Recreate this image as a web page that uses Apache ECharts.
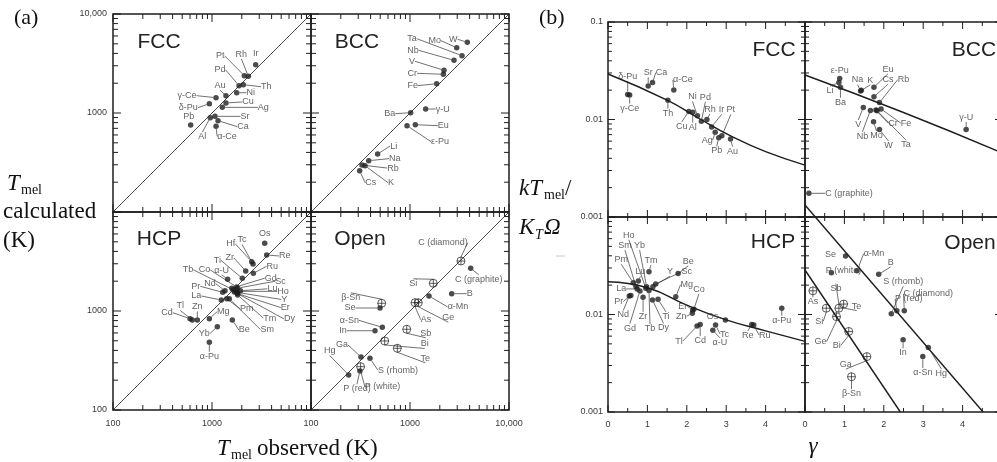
<!DOCTYPE html>
<html>
<head>
<meta charset="utf-8">
<script src="https://cdn.jsdelivr.net/npm/echarts@6/dist/echarts.min.js"></script>
<style>
  html, body { margin: 0; padding: 0; background: #fff; }
  #chart { width: 997px; height: 462px; }
</style>
</head>
<body>
<div id="chart"></div>
<script>
// ---------- tick values and tick labels ----------
const tempMajor = [100, 1000, 10000];
const tempMinor = [200, 300, 400, 500, 600, 700, 800, 900, 2000, 3000, 4000, 5000, 6000, 7000, 8000, 9000];
const tempTickLabels = ['100', '1000', '10,000'];
const ratioMajor = [0.001, 0.01, 0.1];
const ratioMinor = [0.002, 0.003, 0.004, 0.005, 0.006, 0.007, 0.008, 0.009, 0.02, 0.03, 0.04, 0.05, 0.06, 0.07, 0.08, 0.09];
const ratioTickLabels = ['0.001', '0.01', '0.1'];
const gammaMajor = [0, 1, 2, 3, 4, 5];
const gammaMinor = [0.5, 1.5, 2.5, 3.5, 4.5];
const gammaTickLabels = ['0', '1', '2', '3', '4'];

// ---------- (a) melting temperature: observed vs calculated (K) ----------
const fccNamesA = ['Ir', 'Rh', 'Pt', 'Th', 'Pd', 'Ni', 'Au', 'γ-Ce', 'Cu', 'δ-Pu', 'Ag', 'Al', 'Sr', 'Ca', 'α-Ce', 'Pb'];
const fccObsA   = [2762, 2327, 2120, 2071, 1874, 1776, 1384, 1098, 1384, 940, 1271, 961, 1072, 1150, 1098, 609];
const fccCalcA  = [3076, 2348, 2380, 1931, 1887, 1603, 1496, 1428, 1262, 1241, 1141, 897, 925, 837, 733, 756];

const bccNamesA = ['W', 'Mo', 'Ta', 'Nb', 'V', 'Cr', 'Fe', 'γ-U', 'Ba', 'Eu', 'ε-Pu', 'Li', 'Na', 'Rb', 'K', 'Cs'];
const bccObsA   = [3793, 2963, 3352, 2782, 2205, 2172, 1860, 1440, 1016, 1132, 933, 471, 383, 327, 351, 310];
const bccCalcA  = [5180, 4567, 3793, 3404, 2700, 2460, 1977, 1097, 1007, 762, 745, 385, 330, 298, 294, 261];

const hcpNamesA = ['Os', 'Re', 'Hf', 'Tc', 'Zr', 'Ru', 'Ti', 'α-U', 'Co', 'Tb', 'Gd', 'Sc', 'Lu', 'Ho', 'Y', 'Er', 'Dy', 'Tm',
                   'Nd', 'Pr', 'La', 'Pm', 'Sm', 'Cd', 'Tl', 'Zn', 'Mg', 'Be', 'Yb', 'α-Pu'];
const hcpObsA   = [3408, 3568, 2518, 2597, 2190, 2616, 2024, 1440, 1768, 1630, 1585, 1814, 1936, 1747, 1799, 1802, 1685, 1818,
                   1353, 1283, 1242, 1408, 1496, 600, 632, 711, 940, 1604, 1132, 940];
const hcpCalcA  = [4830, 3680, 3148, 2985, 2535, 2404, 2138, 2089, 1750, 1640, 1700, 1700, 1600, 1580, 1540, 1500, 1560, 1450,
                   1603, 1545, 1292, 1331, 1331, 836, 812, 812, 836, 812, 695, 483];

const openNamesA = ['C (diamond)', 'C (graphite)', 'Si', 'B', 'α-Mn', 'β-Sn', 'Se', 'As', 'Ge', 'α-Sn', 'In', 'Sb', 'Bi', 'Te',
                    'S (rhomb)', 'Ga', 'Hg', 'P (white)', 'P (red)'];
const openObsA   = [3270, 4102, 1720, 2636, 1556, 518, 498, 1124, 1213, 525, 443, 927, 555, 745, 394, 320, 240, 317, 312];
const openCalcA  = [3200, 2700, 1905, 1496, 1418, 1197, 1072, 1213, 1213, 684, 632, 654, 498, 420, 333, 343, 226, 274, 248];
const openRingedA = ['C (diamond)', 'Si', 'β-Sn', 'As', 'Ge', 'Sb', 'Bi', 'Te', 'P (white)'];

const diagonalA = [100, 10000];

// ---------- (b) kTmel/KTΩ against γ ----------
const fccNamesB = ['δ-Pu', 'γ-Ce', 'Sr', 'Ca', 'α-Ce', 'Th', 'Cu', 'Al', 'Ni', 'Pd', 'Rh', 'Ir', 'Ag', 'Pt', 'Pb', 'Au'];
const fccGammaB = [0.50, 0.55, 1.02, 1.13, 1.67, 1.52, 2.05, 2.15, 2.27, 2.37, 2.51, 2.63, 2.72, 2.89, 2.81, 3.11];
const fccRatioB = [0.0181, 0.0178, 0.0221, 0.0239, 0.0201, 0.0158, 0.0121, 0.0119, 0.0109, 0.0096, 0.0100, 0.0084, 0.0074, 0.0068, 0.0065, 0.0063];
const fccFitGamma = [0, 1.5, 2.3, 3.15, 4, 5];
const fccFitRatio = [0.0293, 0.0158, 0.0103, 0.00667, 0.00468, 0.00341];

const bccNamesB = ['ε-Pu', 'Li', 'Ba', 'Na', 'K', 'Eu', 'Cs', 'Rb', 'V', 'Nb', 'Cr', 'Ta', 'Fe', 'Mo', 'W', 'γ-U', 'C (graphite)'];
const bccGammaB = [0.88, 0.86, 0.90, 1.41, 1.43, 1.75, 1.75, 1.89, 1.48, 1.66, 1.80, 1.83, 1.93, 1.74, 1.89, 4.09, 0.10];
const bccRatioB = [0.0264, 0.0239, 0.0214, 0.0196, 0.0199, 0.0214, 0.0171, 0.0149, 0.0133, 0.0124, 0.0125, 0.0123, 0.0128, 0.0095, 0.0079, 0.0079, 0.00175];
const bccFitGamma = [0, 2.5, 5];
const bccFitRatio = [0.0286, 0.0118, 0.00456];

const hcpNamesB = ['Ho', 'Sm', 'Yb', 'Pm', 'Tm', 'Lu', 'Be', 'Y', 'Sc', 'Mg', 'Co', 'La', 'Pr', 'Nd', 'Zr', 'Ti', 'Er', 'Zn',
                   'Gd', 'Tb', 'Dy', 'Os', 'Tl', 'Cd', 'Tc', 'α-U', 'Re', 'Ru', 'α-Pu'];
const hcpGammaB = [0.96, 0.71, 0.98, 0.64, 1.04, 0.77, 1.78, 1.14, 1.21, 1.72, 2.18, 0.74, 0.58, 0.54, 0.89, 1.27, 2.15, 2.14,
                   0.81, 1.04, 1.13, 2.98, 2.26, 2.34, 2.73, 2.66, 3.65, 3.70, 4.41];
const hcpRatioB = [0.0186, 0.0193, 0.0193, 0.0212, 0.0275, 0.0221, 0.0264, 0.0193, 0.0206, 0.0152, 0.0113, 0.0183, 0.0157, 0.0155, 0.0150, 0.0143, 0.0111, 0.0103,
                   0.0174, 0.0176, 0.0141, 0.0088, 0.0076, 0.0079, 0.0078, 0.0069, 0.0079, 0.0078, 0.0116];
const hcpFitGamma = [0, 1, 2, 3, 4, 5];
const hcpFitRatio = [0.0217, 0.0188, 0.0125, 0.0088, 0.0068, 0.0053];

const openNamesB = ['Se', 'P (white)', 'α-Mn', 'B', 'S (rhomb)', 'P (red)', 'C (diamond)', 'As', 'Sb', 'Te', 'Si', 'Ge', 'Bi',
                    'In', 'Hg', 'α-Sn', 'Ga', 'β-Sn'];
const openGammaB = [1.03, 0.67, 1.32, 1.87, 2.19, 2.33, 2.52, 0.20, 0.86, 0.98, 0.54, 0.80, 1.11, 2.49, 3.13, 2.99, 1.57, 1.18];
const openRatioB = [0.0398, 0.0268, 0.0281, 0.0258, 0.0102, 0.0109, 0.0109, 0.0175, 0.0116, 0.0128, 0.0116, 0.0095, 0.0067,
                    0.0055, 0.0046, 0.0037, 0.0037, 0.0023];
const openRingedB = ['As', 'Sb', 'Te', 'Si', 'Ge', 'Bi', 'Ga', 'β-Sn'];
const openUpperFitGamma = [0, 4.52];
const openUpperFitRatio = [0.133, 0.001];
const openLowerFitGamma = [0, 2.42];
const openLowerFitRatio = [0.0286, 0.001];

// ---------- label placement (pixel shift of each label centre from its point; third entry 0 = no leader) ----------
const shiftFccA = { 'Ir': [0, -11, 0], 'Rh': [-7, -22], 'Pt': [-24, -20], 'Pd': [-19, -16], 'Th': [23, 2], 'Ni': [14, 0],
  'Au': [-6, -10], 'γ-Ce': [-29, -2], 'Cu': [22, -1], 'δ-Pu': [-21, 4], 'Ag': [41, 0], 'Sr': [30, 0], 'Ca': [25, 6],
  'α-Ce': [11, 10], 'Al': [-8, 19], 'Pb': [-2, -9, 0] };
const shiftBccA = { 'W': [-14, -3], 'Mo': [-22, -7], 'Ta': [-50, -17], 'Nb': [-41, -10], 'V': [-32, -9], 'Cr': [-31, -1],
  'Fe': [-24, 2], 'γ-U': [17, 0], 'Ba': [-21, 1], 'Eu': [28, 1], 'ε-Pu': [33, 16], 'Li': [16, -8], 'Na': [26, -2],
  'Rb': [31, 3], 'K': [26, 17], 'Cs': [11, 12] };
const shiftHcpA = { 'Os': [0, -10, 0], 'Re': [18, 1], 'Hf': [-21, -18], 'Tc': [-11, -24], 'Zr': [-16, -13], 'Ru': [19, -7],
  'Ti': [-25, -18], 'α-U': [-6, -9], 'Co': [-32, -17], 'Tb': [-45, -20], 'Gd': [39, -10], 'Sc': [43, -7], 'Lu': [32, -2],
  'Ho': [47, 0], 'Y': [47, 7], 'Er': [48, 14], 'Dy': [55, 27], 'Tm': [32, 23], 'Nd': [-15, -7], 'Pr': [-27, -6],
  'La': [-25, -4], 'Pm': [20, 10], 'Sm': [38, 31], 'Cd': [-23, -6], 'Tl': [-12, -14], 'Zn': [0, -13], 'Mg': [14, -7],
  'Be': [12, 10], 'Yb': [-13, 7], 'α-Pu': [0, 14] };
const shiftOpenA = { 'C (diamond)': [-18, -18], 'C (graphite)': [8, 11], 'Si': [-20, 0], 'B': [18, 0], 'α-Mn': [29, 11],
  'β-Sn': [-31, -6], 'Se': [-30, 0], 'As': [11, 17], 'Ge': [30, 15], 'α-Sn': [-33, -7], 'In': [-32, 0], 'Sb': [19, 4],
  'Bi': [40, 3], 'Te': [28, 10], 'S (rhomb)': [28, 12], 'Ga': [-19, -12], 'Hg': [-19, -24], 'P (white)': [22, 20],
  'P (red)': [-3, 18] };
const shiftFccB = { 'δ-Pu': [0, -18], 'γ-Ce': [0, 13], 'Sr': [0, -13], 'Ca': [9, -10], 'α-Ce': [9, -10], 'Th': [0, 13],
  'Cu': [-7, 15], 'Al': [0, 15], 'Ni': [-5, -19], 'Pd': [4, -24], 'Rh': [3, -10], 'Ir': [10, -17], 'Ag': [-8, 8],
  'Pt': [9, -26], 'Pb': [-2, 13], 'Au': [2, 12] };
const shiftBccB = { 'ε-Pu': [0, -8, 0], 'Li': [-9, 8], 'Ba': [0, 15], 'Na': [-3, -11], 'K': [9, -10], 'Eu': [14, -18],
  'Cs': [14, -17], 'Rb': [24, -23], 'V': [-5, 17], 'Nb': [-8, 26], 'Cr': [17, 13], 'Ta': [29, 34], 'Fe': [25, 14],
  'Mo': [3, 14], 'W': [9, 16], 'γ-U': [0, -12], 'C (graphite)': [40, 0] };
const shiftHcpB = { 'Ho': [-17, -53], 'Sm': [-11, -41], 'Yb': [-7, -41], 'Pm': [-12, -23], 'Tm': [2, -11], 'Lu': [2, -9],
  'Be': [10, -12], 'Y': [17, -15], 'Sc': [31, -12], 'Mg': [11, -12], 'Co': [5, -20], 'La': [-16, 0], 'Pr': [-12, 6],
  'Nd': [-6, 19], 'Zr': [0, 19], 'Ti': [8, 17], 'Er': [-10, -4], 'Zn': [-11, 3], 'Gd': [-10, 37], 'Tb': [1, 38],
  'Dy': [11, 28], 'Os': [-13, -3], 'Tl': [-18, 15], 'Cd': [0, 16], 'Tc': [9, 9], 'α-U': [7, 12], 'Re': [-4, 11],
  'Ru': [11, 10], 'α-Pu': [0, 12] };
const shiftOpenB = { 'Se': [-15, -1, 0], 'P (white)': [12, -2, 0], 'α-Mn': [17, -17], 'B': [12, -12], 'S (rhomb)': [12, -32],
  'P (red)': [12, -12], 'C (diamond)': [24, -17], 'As': [0, 11], 'Sb': [-3, -20], 'Te': [13, 2], 'Si': [-7, 13],
  'Ge': [-16, 25], 'Bi': [-12, 14], 'In': [0, 13], 'Hg': [13, 26], 'α-Sn': [0, 16], 'Ga': [-21, 8], 'β-Sn': [0, 17] };

// ---------- drawing helpers ----------
const SANS = '"Liberation Sans", Arial, sans-serif';
const SERIF = '"Liberation Serif", "Times New Roman", serif';
const INK = '#1e1e1e';
const RING = 'path://M10,0A10,10 0 1,1 10,20A10,10 0 1,1 10,0ZM0,10L20,10M10,0L10,20';

const cells = [
  { left: 113, top: 14, width: 198, height: 198 },
  { left: 311, top: 14, width: 198, height: 198 },
  { left: 113, top: 212, width: 198, height: 198 },
  { left: 311, top: 212, width: 198, height: 198 },
  { left: 608, top: 22, width: 197, height: 195 },
  { left: 805, top: 22, width: 197, height: 195 },
  { left: 608, top: 217, width: 197, height: 195 },
  { left: 805, top: 217, width: 197, height: 195 }
];

function logLabel(labels, first, shown) {
  return function (v) {
    const idx = Math.round(Math.log10(v)) - Math.round(Math.log10(first));
    const t = labels[idx];
    return shown.indexOf(t) >= 0 ? t : '';
  };
}

const axisText = { fontFamily: SANS, fontSize: 9, color: '#3a3a3a' };

function tempAxis(gi, shown, isX) {
  return {
    gridIndex: gi, type: 'log', logBase: 10, min: 100, max: 10000,
    axisLine: { show: false }, axisTick: { show: false }, splitLine: { show: false },
    axisLabel: Object.assign({ show: shown.length > 0, margin: isX ? 9 : 6, formatter: logLabel(tempTickLabels, 100, shown) }, axisText)
  };
}
function ratioAxis(gi, shown) {
  return {
    gridIndex: gi, type: 'log', logBase: 10, min: 0.001, max: 0.1,
    axisLine: { show: false }, axisTick: { show: false }, splitLine: { show: false },
    axisLabel: Object.assign({ show: shown.length > 0, margin: 5, formatter: logLabel(ratioTickLabels, 0.001, shown) }, axisText)
  };
}
function gammaAxis(gi, shown) {
  return {
    gridIndex: gi, type: 'value', min: 0, max: 5, interval: 1,
    axisLine: { show: false }, axisTick: { show: false }, splitLine: { show: false },
    axisLabel: Object.assign({ show: shown.length > 0, margin: 8,
      formatter: v => { const t = String(Math.round(v)); return shown.indexOf(t) >= 0 ? t : ''; } }, axisText)
  };
}

// inward ticks on all four sides of a cell
function tickSeries(gi, xr, yr, xMaj, xMin, yMaj, yMin, majLen, minLen) {
  return {
    type: 'custom', xAxisIndex: gi, yAxisIndex: gi, silent: true, animation: false, z: 3, clip: false,
    data: [[xr[0], yr[0]]],
    renderItem: function (params, api) {
      const bl = api.coord([xr[0], yr[0]]);
      const tr = api.coord([xr[1], yr[1]]);
      const ch = [];
      const seg = (x1, y1, x2, y2) => ch.push({ type: 'line', shape: { x1, y1, x2, y2 }, style: { stroke: INK, lineWidth: 1 } });
      const xt = (v, len) => { const p = api.coord([v, yr[0]])[0]; seg(p, bl[1], p, bl[1] - len); seg(p, tr[1], p, tr[1] + len); };
      const yt = (v, len) => { const p = api.coord([xr[0], v])[1]; seg(bl[0], p, bl[0] + len, p); seg(tr[0], p, tr[0] - len, p); };
      xMaj.forEach(v => xt(v, majLen)); xMin.forEach(v => xt(v, minLen));
      yMaj.forEach(v => yt(v, majLen)); yMin.forEach(v => yt(v, minLen));
      return { type: 'group', children: ch };
    }
  };
}

function pointSeries(gi, names, xs, ys, shifts, ringed) {
  const data = names.map((n, i) => {
    const s = shifts[n] || [0, -9];
    const ring = !!ringed && ringed.indexOf(n) >= 0;
    return {
      name: n, value: [xs[i], ys[i]],
      symbol: ring ? RING : 'circle',
      symbolSize: ring ? 8 : 5.5,
      itemStyle: ring ? { color: 'rgba(255,255,255,0)', borderColor: INK, borderWidth: 0.9 } : { color: INK },
      labelLine: { show: s[2] !== 0 }
    };
  });
  return {
    type: 'scatter', xAxisIndex: gi, yAxisIndex: gi, data: data, z: 5, clip: false, animation: false,
    emphasis: { disabled: true },
    label: { show: true, position: 'inside', formatter: '{b}', fontFamily: SANS, fontSize: 9, color: '#3a3a3a',
             textBorderWidth: 0 },
    labelLine: { show: true, lineStyle: { color: '#333', width: 0.7 } },
    labelLayout: function (p) {
      const s = shifts[names[p.dataIndex]] || [0, -9];
      return { dx: s[0], dy: s[1] };
    }
  };
}

function lineSeries(gi, xs, ys, width, smooth) {
  return {
    type: 'line', xAxisIndex: gi, yAxisIndex: gi, data: xs.map((x, i) => [x, ys[i]]),
    symbol: 'none', clip: false, animation: false, silent: true, z: 2, smooth: !!smooth,
    lineStyle: { color: INK, width: width }
  };
}

const series = [];
// (a) cells
[0, 1, 2, 3].forEach(gi => {
  series.push(tickSeries(gi, [100, 10000], [100, 10000], tempMajor, tempMinor, tempMajor, tempMinor, 8, 5));
  series.push(lineSeries(gi, diagonalA, diagonalA, 0.8));
});
series.push(pointSeries(0, fccNamesA, fccObsA, fccCalcA, shiftFccA));
series.push(pointSeries(1, bccNamesA, bccObsA, bccCalcA, shiftBccA));
series.push(pointSeries(2, hcpNamesA, hcpObsA, hcpCalcA, shiftHcpA));
series.push(pointSeries(3, openNamesA, openObsA, openCalcA, shiftOpenA, openRingedA));
// (b) cells
[4, 5, 6, 7].forEach(gi => {
  series.push(tickSeries(gi, [0, 5], [0.001, 0.1], gammaMajor, gammaMinor, ratioMajor, ratioMinor, 7, 4));
});
series.push(lineSeries(4, fccFitGamma, fccFitRatio, 1.4, true));
series.push(lineSeries(5, bccFitGamma, bccFitRatio, 1.4, true));
series.push(lineSeries(6, hcpFitGamma, hcpFitRatio, 1.4, true));
series.push(lineSeries(7, openUpperFitGamma, openUpperFitRatio, 1.4));
series.push(lineSeries(7, openLowerFitGamma, openLowerFitRatio, 1.4));
series.push(pointSeries(4, fccNamesB, fccGammaB, fccRatioB, shiftFccB));
series.push(pointSeries(5, bccNamesB, bccGammaB, bccRatioB, shiftBccB));
series.push(pointSeries(6, hcpNamesB, hcpGammaB, hcpRatioB, shiftHcpB));
series.push(pointSeries(7, openNamesB, openGammaB, openRatioB, shiftOpenB, openRingedB));

function txt(x, y, text, font, align, color) {
  return { type: 'text', x: x, y: y, silent: true, z: 10,
    style: { text: text, font: font, fill: color || '#111', textAlign: align || 'left', textVerticalAlign: 'middle',
             align: align || 'left', verticalAlign: 'middle' } };
}
function cellTitle(x, y, t) { return txt(x, y, t, '21px ' + SANS, 'center', '#222'); }

const chart = echarts.init(document.getElementById('chart'), null, { renderer: 'canvas' });
chart.setOption({
  backgroundColor: '#fff',
  animation: false,
  grid: cells.map(c => Object.assign({ show: true, borderColor: INK, borderWidth: 1.5, backgroundColor: 'transparent',
                                       containLabel: false, outerBoundsMode: 'none' }, c)),
  xAxis: [
    tempAxis(0, [], true), tempAxis(1, [], true), tempAxis(2, ['100', '1000'], true), tempAxis(3, ['100', '1000', '10,000'], true),
    gammaAxis(4, []), gammaAxis(5, []), gammaAxis(6, gammaTickLabels), gammaAxis(7, gammaTickLabels)
  ],
  yAxis: [
    tempAxis(0, ['1000', '10,000'], false), tempAxis(1, [], false), tempAxis(2, ['100', '1000'], false), tempAxis(3, [], false),
    ratioAxis(4, ['0.001', '0.01', '0.1']), ratioAxis(5, []), ratioAxis(6, ['0.001', '0.01']), ratioAxis(7, [])
  ],
  series: series,
  graphic: [
    txt(14, 18, '(a)', '22px ' + SERIF),
    txt(539, 18, '(b)', '22px ' + SERIF),
    cellTitle(159, 42, 'FCC'), cellTitle(357, 42, 'BCC'), cellTitle(159, 239, 'HCP'), cellTitle(360, 239, 'Open'),
    cellTitle(774, 50, 'FCC'), cellTitle(974, 50, 'BCC'), cellTitle(773, 242, 'HCP'), cellTitle(970, 243, 'Open'),
    // y title of (a)
    txt(7, 184, 'T', 'italic 23px ' + SERIF),
    txt(21, 190, 'mel', '14px ' + SERIF),
    txt(3, 212, 'calculated', '23px ' + SERIF),
    txt(3, 241, '(K)', '23px ' + SERIF),
    // x title of (a)
    txt(217, 449, 'T', 'italic 23px ' + SERIF),
    txt(231, 455, 'mel', '14px ' + SERIF),
    txt(257, 449, 'observed (K)', '23px ' + SERIF),
    // y title of (b)
    txt(519, 189, 'kT', 'italic 23px ' + SERIF),
    txt(544, 195, 'mel', '14px ' + SERIF),
    txt(565, 189, '/', '23px ' + SERIF),
    txt(519, 228, 'K', 'italic 23px ' + SERIF),
    txt(535, 235, 'T', 'italic 14px ' + SERIF),
    txt(544, 228, 'Ω', 'italic 23px ' + SERIF),
    { type: 'line', silent: true, shape: { x1: 556, y1: 256, x2: 565, y2: 256 }, style: { stroke: '#c8c8c8', lineWidth: 1 } },
    // x title of (b)
    txt(813, 447, 'γ', 'italic 23px ' + SERIF, 'center')
  ]
});
</script>
</body>
</html>
